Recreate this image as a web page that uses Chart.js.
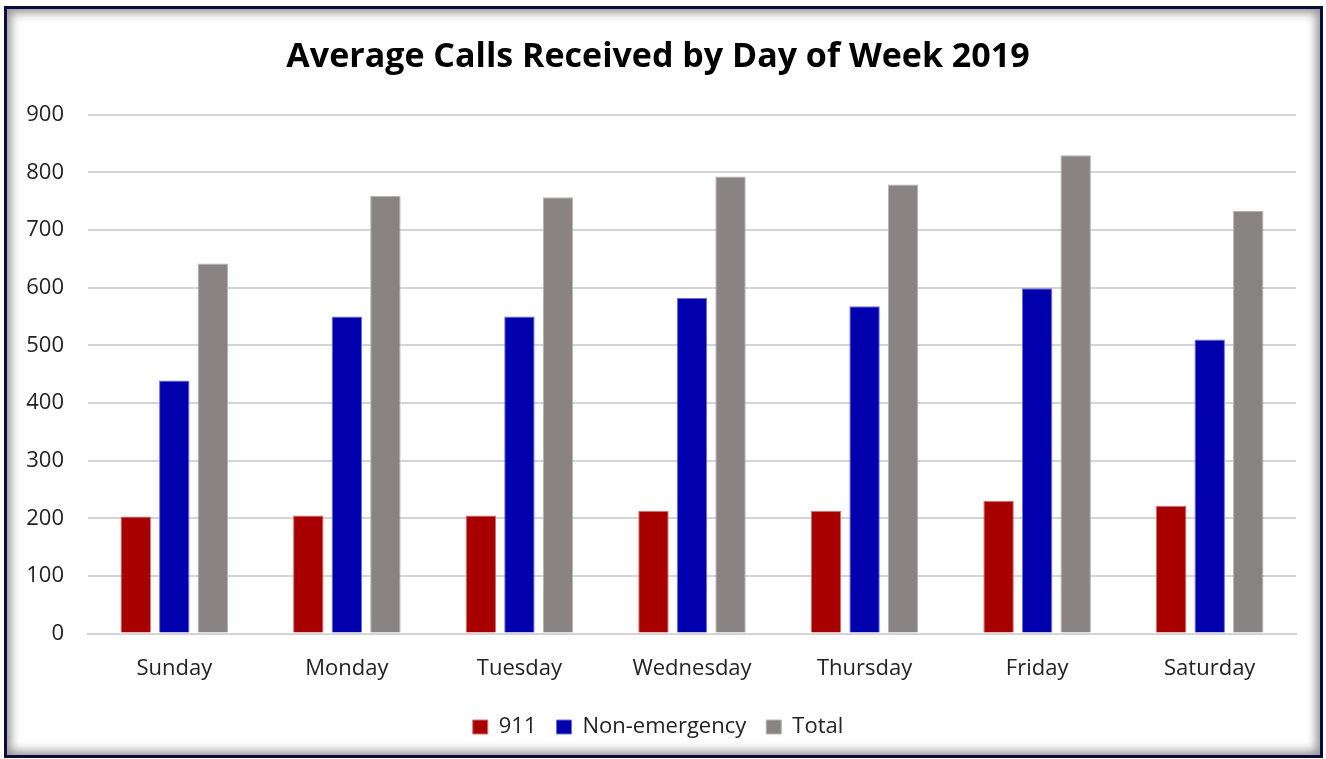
<!DOCTYPE html>
<html>
<head>
<meta charset="utf-8">
<script src="https://cdn.jsdelivr.net/npm/chart.js@4"></script>
<style>
  html, body { margin: 0; padding: 0; background: #fff; }
  #wrap { position: relative; width: 1326px; height: 759px; overflow: hidden; }
  #frame {
    position: absolute; left: 4px; top: 6px; width: 1313px; height: 746px;
    border: 3px solid #0b0b3d;
    box-shadow: inset 0 0 10px 4px rgba(80, 80, 80, 0.6);
    pointer-events: none;
  }
  canvas { position: absolute; left: 0; top: 0; }
</style>
</head>
<body>
<div id="wrap">
  <canvas id="callsChart" width="1326" height="759"></canvas>
  <div id="frame"></div>
</div>
<script>
// Chart data
const days = ['Sunday', 'Monday', 'Tuesday', 'Wednesday', 'Thursday', 'Friday', 'Saturday'];
const calls911 = [203, 205, 205, 213, 213, 230, 222];
const nonEmergency = [439, 550, 550, 582, 568, 599, 510];
const totalCalls = [642, 759, 757, 793, 779, 830, 733];
const yTicks = [0, 100, 200, 300, 400, 500, 600, 700, 800, 900];

const textColor = '#222222';

const ctx = document.getElementById('callsChart').getContext('2d');
const callsChart = new Chart(ctx, {
  type: 'bar',
  data: {
    labels: days,
    datasets: [
      {
        label: '911',
        data: calls911,
        backgroundColor: '#a80000',
        borderColor: '#d07070',
        borderWidth: 1,
      },
      {
        label: 'Non-emergency',
        data: nonEmergency,
        backgroundColor: '#0000ad',
        borderColor: '#6f6fe0',
        borderWidth: 1,
      },
      {
        label: 'Total',
        data: totalCalls,
        backgroundColor: '#898383',
        borderColor: '#b8b4b4',
        borderWidth: 1,
      },
    ],
  },
  options: {
    responsive: false,
    animation: false,
    devicePixelRatio: 1,
    categoryPercentage: 0.67,
    barPercentage: 0.79,
    layout: {
      padding: { left: 20, right: 30, top: 20, bottom: 11 },
    },
    plugins: {
      title: {
        display: true,
        text: 'Average Calls Received by Day of Week 2019',
        color: '#000',
        font: { family: 'Open Sans', size: 34, weight: 'bold' },
        padding: { top: 17, bottom: 37 },
      },
      legend: {
        position: 'bottom',
        labels: {
          color: textColor,
          font: { family: 'Open Sans', size: 22 },
          boxWidth: 15,
          boxHeight: 14,
          padding: 20,
        },
      },
      tooltip: { enabled: false },
    },
    scales: {
      x: {
        grid: { display: false },
        border: { color: '#d4d4d4', width: 2 },
        ticks: {
          color: textColor,
          font: { family: 'Open Sans', size: 22 },
          padding: 14,
        },
      },
      y: {
        min: 0,
        max: 900,
        afterBuildTicks: (scale) => {
          scale.ticks = yTicks.map((v) => ({ value: v }));
        },
        afterFit: (scale) => {
          scale.width = 68;
        },
        grid: { color: '#d4d4d4', lineWidth: 2, drawTicks: false },
        border: { display: false },
        ticks: {
          color: textColor,
          font: { family: 'Open Sans', size: 22 },
          padding: 24,
        },
      },
    },
  },
});
</script>
</body>
</html>
